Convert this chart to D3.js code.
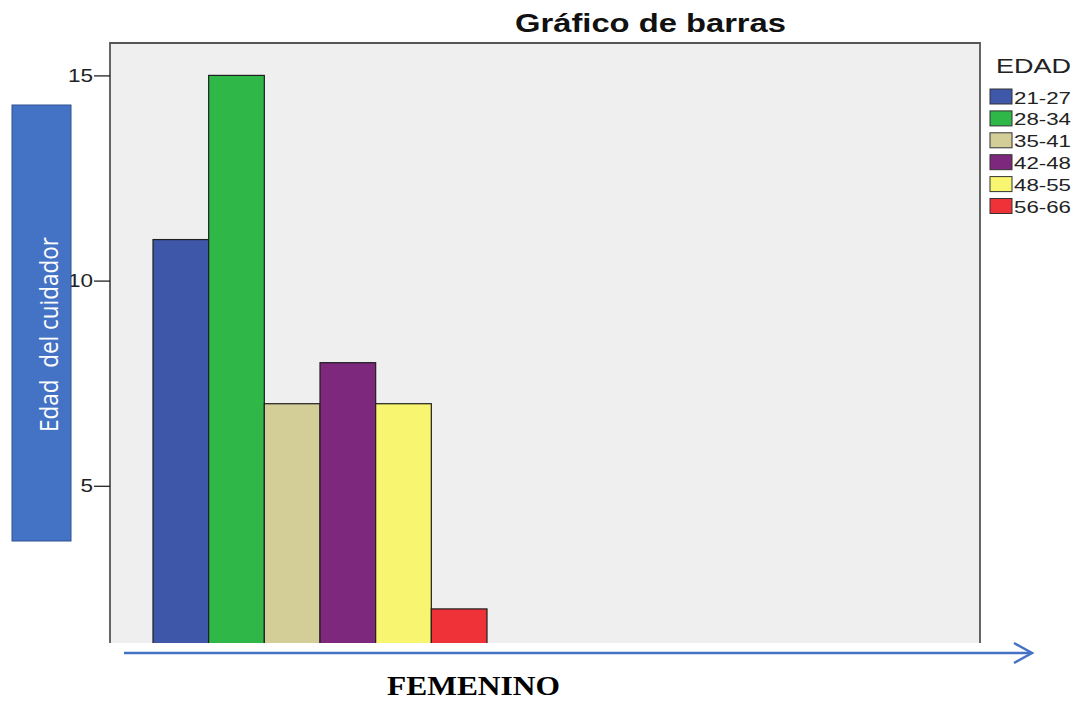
<!DOCTYPE html>
<html>
<head>
<meta charset="utf-8">
<script src="https://cdn.jsdelivr.net/npm/d3@7"></script>
<style>
  html, body { margin: 0; padding: 0; background: #fff; }
  svg { display: block; }
</style>
</head>
<body>
<div id="chart"></div>
<script>
// Age groups of the caregivers and their counts (female carers)
const categories = ["21-27", "28-34", "35-41", "42-48", "48-55", "56-66"];
const counts = [11, 15, 7, 8, 7, 2];
const barColors = ["#3F57A8", "#2FB748", "#D3CD98", "#7D287C", "#F8F570", "#EE3237"];
const yTicks = [5, 10, 15];
const title = "Gráfico de barras";
const legendTitle = "EDAD";
const yLabel = "Edad  del cuidador";
const groupLabel = "FEMENINO";

const W = 1083, H = 701;
const plot = { left: 110, top: 43, right: 980, bottom: 643 };
const stretch = 1.25; // horizontal widening of chart lettering

const svg = d3.select("#chart").append("svg")
  .attr("width", W).attr("height", H)
  .style("background", "#fff");

// widen a text horizontally to a given length, keeping it left-anchored
function fit(sel, len) {
  sel.attr("textLength", len).attr("lengthAdjust", "spacingAndGlyphs");
}

// scales
const y = d3.scaleLinear().domain([0, 15]).range([691, 75.4]);
const x = d3.scaleBand().domain(categories).range([153, 487]).padding(0);

// plot background
svg.append("rect")
  .attr("x", plot.left).attr("y", plot.top)
  .attr("width", plot.right - plot.left).attr("height", plot.bottom - plot.top)
  .attr("fill", "#EFEFEF");

svg.append("defs").append("clipPath").attr("id", "plotClip")
  .append("rect")
  .attr("x", plot.left).attr("y", plot.top - 2)
  .attr("width", plot.right - plot.left).attr("height", plot.bottom - plot.top + 2);

// bars
svg.append("g").attr("clip-path", "url(#plotClip)")
  .selectAll("rect").data(counts).join("rect")
  .attr("x", (d, i) => x(categories[i]))
  .attr("width", x.bandwidth())
  .attr("y", d => y(d))
  .attr("height", d => y(0) - y(d))
  .attr("fill", (d, i) => barColors[i])
  .attr("stroke", "#1f1f1f")
  .attr("stroke-width", 1.2);

// frame (left, top, right)
svg.append("path")
  .attr("d", `M${plot.left},${plot.bottom}V${plot.top}H${plot.right}V${plot.bottom}`)
  .attr("fill", "none").attr("stroke", "#555").attr("stroke-width", 1.8);

// y axis ticks
const yAxis = d3.axisLeft(y).tickValues(yTicks).tickSize(16).tickPadding(0).tickFormat(d3.format("d"));
const ga = svg.append("g").attr("transform", `translate(${plot.left},0)`).call(yAxis);
ga.select(".domain").remove();
ga.selectAll(".tick line").attr("stroke", "#222").attr("stroke-width", 1.3);
ga.selectAll(".tick text")
  .attr("font-family", "Liberation Sans, Arial, sans-serif")
  .attr("font-size", 18).attr("fill", "#222")
  .attr("text-anchor", "start").attr("dy", "0.34em")
  .each(function () {
    const t = d3.select(this);
    const len = this.getComputedTextLength() * stretch;
    t.attr("x", -17 - len);
    fit(t, len);
  });

// title
const tt = svg.append("text")
  .attr("x", 515).attr("y", 32)
  .attr("font-family", "Liberation Sans, Arial, sans-serif")
  .attr("font-weight", "bold").attr("font-size", 26).attr("fill", "#111")
  .text(title);
fit(tt, 271);

// legend
const legend = svg.append("g");
const lt = legend.append("text")
  .attr("x", 996).attr("y", 73)
  .attr("font-family", "Liberation Sans, Arial, sans-serif")
  .attr("font-size", 20).attr("fill", "#222")
  .text(legendTitle);
fit(lt, 75);

const rowY = d3.scaleLinear().domain([0, 5]).range([96.5, 206]);
const items = legend.selectAll("g.item").data(categories).join("g")
  .attr("class", "item")
  .attr("transform", (d, i) => `translate(0,${rowY(i)})`);
items.append("rect")
  .attr("x", 990).attr("y", -7.5).attr("width", 22).attr("height", 15)
  .attr("fill", (d, i) => barColors[i])
  .attr("stroke", "#333").attr("stroke-width", 1);
items.append("text")
  .attr("x", 1014).attr("y", 7)
  .attr("font-family", "Liberation Sans, Arial, sans-serif")
  .attr("font-size", 17).attr("fill", "#222")
  .text(d => d)
  .each(function () { fit(d3.select(this), 57); });

// y-axis caption box
svg.append("rect")
  .attr("x", 12).attr("y", 105).attr("width", 59).attr("height", 436)
  .attr("fill", "#4472C4").attr("stroke", "#2F528F").attr("stroke-width", 1);
const yl = svg.append("text")
  .attr("x", -97.5).attr("y", 0)
  .attr("font-family", "Open Sans, Noto Sans, sans-serif")
  .attr("font-size", 20).attr("fill", "#fff")
  .style("white-space", "pre")
  .text(yLabel);
// size the caption so it runs 195px along the box, then widen the glyphs
const natural = yl.node().getComputedTextLength();
const fs = 20 * 195 / natural;
const widen = 18 / (0.714 * fs);
yl.attr("font-size", fs)
  .attr("transform", `translate(58,334.5) scale(${widen},1) rotate(-90)`);

// horizontal arrow under the plot
const arrowY = 653;
svg.append("line")
  .attr("x1", 124).attr("x2", 1031).attr("y1", arrowY).attr("y2", arrowY)
  .attr("stroke", "#4472C4").attr("stroke-width", 2.5);
svg.append("path")
  .attr("d", `M1014,${arrowY - 10}L1032,${arrowY}L1014,${arrowY + 10}`)
  .attr("fill", "none").attr("stroke", "#4472C4").attr("stroke-width", 2.5)
  .attr("stroke-linejoin", "miter");

// group label
const gl = svg.append("text")
  .attr("x", 387).attr("y", 695)
  .attr("font-family", "Liberation Serif, Times New Roman, serif")
  .attr("font-weight", "bold").attr("font-size", 27).attr("fill", "#000")
  .text(groupLabel);
fit(gl, 173);
</script>
</body>
</html>
